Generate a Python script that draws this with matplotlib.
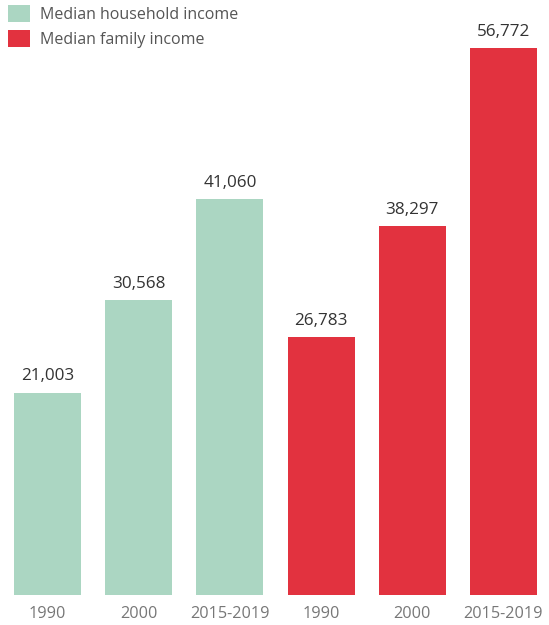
import matplotlib.pyplot as plt

# data
series = ['Median household income', 'Median family income']
years = ['1990', '2000', '2015-2019']
household = [21003, 30568, 41060]
family = [26783, 38297, 56772]

green = '#abd6c2'
red = '#e2323f'

plt.rcParams['font.family'] = ['Open Sans', 'DejaVu Sans']

fig = plt.figure(figsize=(5.49, 6.25), dpi=100)
ax = fig.add_axes([0, 30 / 625, 1, 595 / 625])

labels = years + years
values = household + family
colors = [green] * len(household) + [red] * len(family)
x = list(range(len(values)))

bars = ax.bar(x, values, width=0.735, color=colors)
for xi, v in zip(x, values):
    ax.annotate(f'{v:,}', (xi, v), xytext=(0, 6), textcoords='offset points',
                ha='center', va='bottom', fontsize=12.3, color='#333333')

ax.set_xlim(-0.521, 5.499)
ax.set_ylim(0, 61755)
ax.set_xticks(x)
ax.set_xticklabels(labels, fontsize=11.7, color='#777777')
ax.tick_params(axis='x', length=0, pad=8)
ax.set_yticks([])
for s in ax.spines.values():
    s.set_visible(False)

ax.legend([bars[0], bars[3]], series, loc='upper left',
          bbox_to_anchor=(0.0117, 1 - 3.5 / 625), bbox_transform=fig.transFigure,
          frameon=False, fontsize=11.5, labelcolor='#555555',
          handlelength=1.4, handleheight=1.25, handletextpad=0.6,
          labelspacing=0.45, borderaxespad=0, borderpad=0.1)

fig.savefig('out.png', dpi=100)
